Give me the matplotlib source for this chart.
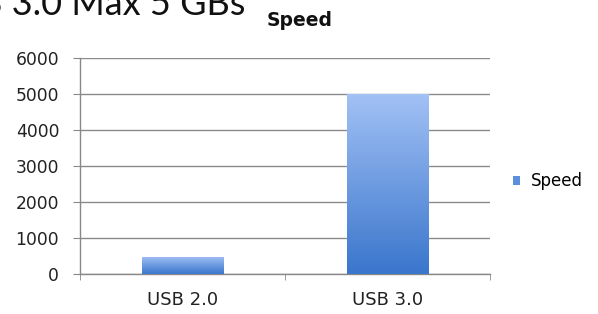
import matplotlib
matplotlib.use("Agg")
import matplotlib.pyplot as plt
import numpy as np
from matplotlib.patches import Rectangle
from matplotlib.colors import LinearSegmentedColormap

categories = ["USB 2.0", "USB 3.0"]
speed = [480, 5000]
yticks = [0, 1000, 2000, 3000, 4000, 5000, 6000]
series_name = "Speed"

plt.rcParams['font.family'] = ['DejaVu Sans']

fig = plt.figure(figsize=(5.98, 3.14), dpi=100)
ax = fig.add_axes([80/598, 1-274/314, 410/598, 216/314])

cmap = LinearSegmentedColormap.from_list("g", ["#3a76cc", "#a2c1f5"])
grad = np.linspace(0, 1, 256).reshape(-1, 1)
xs = np.arange(len(categories)) + 0.5
width = 0.4
bars = ax.bar(xs, speed, width=width, color="none", zorder=3, edgecolor="none")
for b in bars:
    x0, y0 = b.get_x(), b.get_y()
    w, h = b.get_width(), b.get_height()
    im = ax.imshow(grad, cmap=cmap, origin="lower", aspect="auto",
                   extent=[x0, x0 + w, y0, y0 + h], zorder=3)
    im.set_clip_path(b)

ax.set_xlim(0, len(categories))
ax.set_ylim(0, 6000)
ax.set_yticks(yticks)
ax.set_yticklabels([str(v) for v in yticks], fontsize=12.3, color="#222222")
ax.set_xticks(xs)
ax.set_xticklabels(categories, fontsize=13, color="#222222")
ax.tick_params(axis="x", length=0, pad=12)
ax.set_xticks(np.arange(len(categories) + 1), minor=True)
ax.tick_params(axis="x", which="minor", length=4, color="#888888", direction="out")
ax.tick_params(axis="y", length=5, color="#888888", direction="out", pad=10)
ax.grid(axis="y", color="#8a8a8a", linewidth=1.0, zorder=0)
for s in ["top", "right"]:
    ax.spines[s].set_visible(False)
for s in ["left", "bottom"]:
    ax.spines[s].set_color("#888888")
    ax.spines[s].set_linewidth(1.0)

fig.text(300/598, 1 - 21/314, "Speed", fontsize=13.5, fontweight="bold",
         ha="center", va="center", color="#111111")

handle = Rectangle((0, 0), 1, 1, facecolor="#5b8fdc", edgecolor="none")
ax.legend([handle], [series_name], loc="center left",
          bbox_to_anchor=(1.056, 0.43), bbox_transform=ax.transAxes,
          frameon=False, fontsize=12, handlelength=0.45, handleheight=0.45,
          handletextpad=0.6, borderpad=0, borderaxespad=0)

# Slide heading, cut off at the top-left edge as in the reference
fig.text(245/598, 1 - 15/314, "USB 3.0 Max 5 GBs", fontsize=26, ha="right",
         va="baseline", color="#111111", family="Lato")

fig.savefig("out.png", dpi=100)
